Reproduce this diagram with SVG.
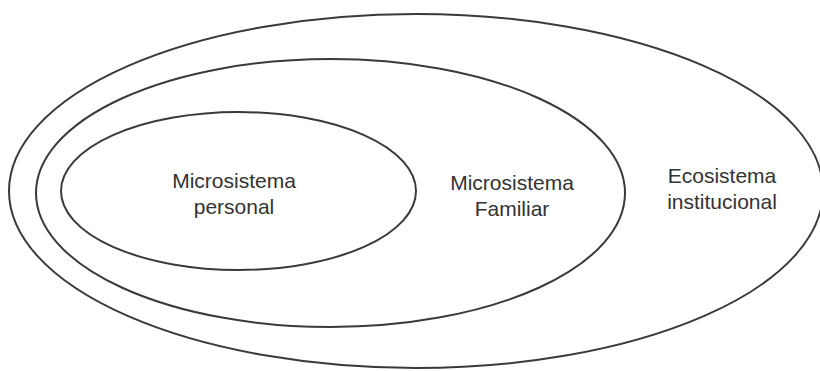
<svg xmlns="http://www.w3.org/2000/svg" width="820" height="371" viewBox="0 0 820 371">
  <style>
    .ring { fill: none; stroke: #3a3a3a; stroke-width: 2; }
    .label { font-family: "Liberation Sans", Arial, Helvetica, sans-serif; font-size: 21px; fill: #333; text-anchor: middle; }
  </style>
  <rect width="820" height="371" fill="#ffffff"/>
  <g id="ecosistema-institucional">
    <ellipse class="ring" cx="416" cy="191" rx="407" ry="177"/>
    <text class="label" x="722" y="183">Ecosistema</text>
    <text class="label" x="722" y="209">institucional</text>
  </g>
  <g id="microsistema-familiar">
    <ellipse class="ring" cx="330.5" cy="193" rx="294.5" ry="134"/>
    <text class="label" x="512" y="190">Microsistema</text>
    <text class="label" x="512" y="216">Familiar</text>
  </g>
  <g id="microsistema-personal">
    <ellipse class="ring" cx="238.5" cy="191" rx="177.5" ry="79"/>
    <text class="label" x="234" y="188">Microsistema</text>
    <text class="label" x="234" y="214">personal</text>
  </g>
  <g id="connectors"/>
</svg>
